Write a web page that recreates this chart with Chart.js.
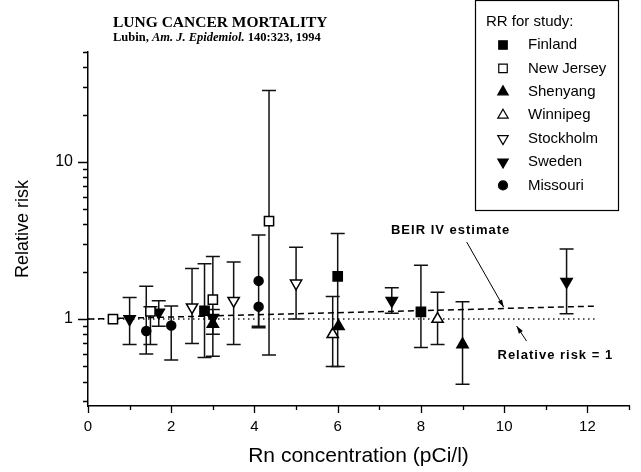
<!DOCTYPE html>
<html>
<head>
<meta charset="utf-8">
<script src="https://cdn.jsdelivr.net/npm/chart.js@4.4.0/dist/chart.umd.min.js"></script>
<style>
  body { margin: 0; background: #fff; }
  #wrap { width: 641px; height: 472px; }
</style>
</head>
<body>
<div id="wrap"><canvas id="rrChart" width="641" height="472"></canvas></div>
<script>
// relative risk per study: x = Rn concentration (pCi/l), rr = RR, lo/hi = CI (null = no bar)
const finlandX = [2.8, 6.0, 8.0];
const finlandRR = [1.13, 1.87, 1.11];
const finlandLo = [0.57, 0.5, 0.66];
const finlandHi = [2.25, 3.5, 2.2];

const newJerseyX = [0.6, 1.5, 3.0, 4.35];
const newJerseyRR = [1.0, 1.12, 1.33, 4.2];
const newJerseyLo = [null, 0.69, 0.58, 0.59];
const newJerseyHi = [null, 1.2, 2.5, 28.5];

const shenyangX = [3.0, 6.02, 9.0];
const shenyangRR = [0.93, 0.9, 0.69];
const shenyangLo = [0.8, null, 0.385];
const shenyangHi = [1.15, null, 1.29];

const winnipegX = [5.88, 8.4];
const winnipegRR = [0.8, 1.0];
const winnipegLo = [0.5, 0.69];
const winnipegHi = [1.39, 1.48];

const stockholmX = [2.5, 3.5, 5.0];
const stockholmRR = [1.19, 1.31, 1.69];
const stockholmLo = [0.7, 0.69, 1.0];
const stockholmHi = [2.1, 2.31, 2.86];

const swedenX = [1.0, 1.7, 3.0, 7.3, 11.5];
const swedenRR = [1.0, 1.1, 1.02, 1.31, 1.73];
const swedenLo = [0.69, 0.9, null, 1.09, 1.08];
const swedenHi = [1.37, 1.31, null, 1.58, 2.79];

const missouriX = [1.4, 2.0, 4.1, 4.1];
const missouriRR = [0.84, 0.91, 1.75, 1.2];
const missouriLo = [0.6, 0.55, 0.9, 0.88];
const missouriHi = [1.62, 1.21, 3.43, null];

// reference lines
const beirX = [0, 12.25];
const beirRR = [1.0, 1.21];
const unityX = [0, 12.25];
const unityRR = [1, 1];

// axes
const xTickValues = [0, 1, 2, 3, 4, 5, 6, 7, 8, 9, 10, 11, 12, 13];
const yTickValues = [0.3, 0.4, 0.5, 0.6, 0.7, 0.8, 0.9, 1, 2, 3, 4, 5, 6, 7, 8, 9, 10, 20, 30, 40, 50];
const yLabelled = [1, 10];

function pts(xs, ys) {
    return xs.map((x, i) => ({ x: x, y: ys[i] }));
}

function study(label, xs, rr, lo, hi, style, filled, rotation) {
    return {
        label: label,
        data: pts(xs, rr),
        errLo: lo,
        errHi: hi,
        pointStyle: style,
        pointRotation: rotation || 0,
        pointRadius: style === 'circle' ? 4.5 : 6.5,
        pointBackgroundColor: filled ? '#000' : '#fff',
        pointBorderColor: '#000',
        pointBorderWidth: 1.5,
        showLine: false
    };
}

const errorBars = {
    id: 'errorBars',
    beforeDatasetsDraw(chart) {
        const ctx = chart.ctx;
        const xs = chart.scales.x, ys = chart.scales.y;
        ctx.save();
        ctx.strokeStyle = '#111';
        ctx.lineWidth = 1.5;
        chart.data.datasets.forEach(ds => {
            if (!ds.errLo) return;
            ds.data.forEach((p, i) => {
                const lo = ds.errLo[i], hi = ds.errHi[i];
                if (lo == null && hi == null) return;
                const px = xs.getPixelForValue(p.x);
                const pLo = ys.getPixelForValue(lo != null ? lo : p.y);
                const pHi = ys.getPixelForValue(hi != null ? hi : p.y);
                ctx.beginPath();
                ctx.moveTo(px, pLo);
                ctx.lineTo(px, pHi);
                if (lo != null) { ctx.moveTo(px - 7, pLo); ctx.lineTo(px + 7, pLo); }
                if (hi != null) { ctx.moveTo(px - 7, pHi); ctx.lineTo(px + 7, pHi); }
                ctx.stroke();
            });
        });
        ctx.restore();
    }
};

const tickMarks = {
    id: 'tickMarks',
    afterDraw(chart) {
        const ctx = chart.ctx;
        const xs = chart.scales.x, ys = chart.scales.y;
        ctx.save();
        ctx.strokeStyle = '#000';
        ctx.lineWidth = 1.3;
        ctx.beginPath();
        yTickValues.forEach(v => {
            const py = Math.round(ys.getPixelForValue(v)) + 0.5;
            const len = yLabelled.includes(v) ? 10 : 5;
            ctx.moveTo(xs.left - len, py);
            ctx.lineTo(xs.left, py);
        });
        xTickValues.forEach(v => {
            const px = Math.round(xs.getPixelForValue(v)) + 0.5;
            const len = v % 2 === 0 ? 7 : 4;
            ctx.moveTo(px, ys.bottom);
            ctx.lineTo(px, ys.bottom + len);
        });
        ctx.stroke();
        ctx.restore();
    }
};

const notes = {
    id: 'notes',
    afterDatasetsDraw(chart) {
        const ctx = chart.ctx;
        const xs = chart.scales.x, ys = chart.scales.y;
        const P = (x, y) => [xs.getPixelForValue(x), ys.getPixelForValue(y)];
        ctx.save();
        ctx.fillStyle = '#000';
        ctx.strokeStyle = '#000';
        ctx.font = 'bold 13px "Liberation Sans", Arial, sans-serif';
        ctx.letterSpacing = '1px';
        ctx.textBaseline = 'middle';
        let t = P(7.28, 3.64);
        ctx.fillText('BEIR IV estimate', t[0], t[1]);
        t = P(9.84, 0.59);
        ctx.fillText('Relative risk = 1', t[0], t[1]);

        function arrow(a, b) {
            ctx.lineWidth = 1;
            ctx.beginPath();
            ctx.moveTo(a[0], a[1]);
            ctx.lineTo(b[0], b[1]);
            ctx.stroke();
            const ang = Math.atan2(b[1] - a[1], b[0] - a[0]);
            ctx.beginPath();
            ctx.moveTo(b[0], b[1]);
            ctx.lineTo(b[0] - 8 * Math.cos(ang - 0.3), b[1] - 8 * Math.sin(ang - 0.3));
            ctx.lineTo(b[0] - 8 * Math.cos(ang + 0.3), b[1] - 8 * Math.sin(ang + 0.3));
            ctx.closePath();
            ctx.fill();
        }
        arrow(P(9.1, 3.09), P(9.99, 1.19));
        arrow(P(10.54, 0.724), P(10.3, 0.903));
        ctx.restore();
    }
};

const header = {
    id: 'header',
    afterDraw(chart) {
        const ctx = chart.ctx;
        ctx.save();
        ctx.fillStyle = '#000';
        ctx.textBaseline = 'alphabetic';
        ctx.font = 'bold 15.5px "Liberation Serif", "Times New Roman", serif';
        ctx.fillText('LUNG CANCER MORTALITY', 113, 27);

        const parts = [
            ['Lubin, ', 'bold'],
            ['Am. J. Epidemiol.', 'italic bold'],
            [' 140:323, 1994', 'bold']
        ];
        let x = 113;
        parts.forEach(p => {
            ctx.font = p[1] + ' 12.5px "Liberation Serif", "Times New Roman", serif';
            ctx.fillText(p[0], x, 41);
            x += ctx.measureText(p[0]).width;
        });

        // legend box
        ctx.strokeStyle = '#000';
        ctx.lineWidth = 1.2;
        ctx.fillStyle = '#fff';
        ctx.fillRect(475.5, 0.5, 143, 210);
        ctx.strokeRect(475.5, 0.5, 143, 210);
        ctx.fillStyle = '#000';
        ctx.font = '15px "Liberation Sans", Arial, sans-serif';
        ctx.textBaseline = 'middle';
        ctx.fillText('RR for study:', 486, 22);
        const studies = chart.data.datasets.filter(d => d.errLo);
        studies.forEach((ds, i) => {
            const y = 45 + i * 23.4;
            ctx.fillStyle = ds.pointBackgroundColor;
            ctx.strokeStyle = '#000';
            Chart.helpers.drawPoint(ctx, {
                pointStyle: ds.pointStyle,
                radius: ds.pointStyle === 'circle' ? 4.5 : 6,
                rotation: ds.pointRotation,
                borderWidth: 1.5
            }, 503, y);
            ctx.fillStyle = '#000';
            ctx.fillText(ds.label, 528, y);
        });
        ctx.restore();
    }
};

Chart.defaults.font.family = '"Liberation Sans", Arial, sans-serif';
Chart.defaults.color = '#000';

new Chart(document.getElementById('rrChart'), {
    type: 'scatter',
    data: {
        datasets: [
            study('Finland', finlandX, finlandRR, finlandLo, finlandHi, 'rect', true),
            study('New Jersey', newJerseyX, newJerseyRR, newJerseyLo, newJerseyHi, 'rect', false),
            study('Shenyang', shenyangX, shenyangRR, shenyangLo, shenyangHi, 'triangle', true),
            study('Winnipeg', winnipegX, winnipegRR, winnipegLo, winnipegHi, 'triangle', false),
            study('Stockholm', stockholmX, stockholmRR, stockholmLo, stockholmHi, 'triangle', false, 180),
            study('Sweden', swedenX, swedenRR, swedenLo, swedenHi, 'triangle', true, 180),
            study('Missouri', missouriX, missouriRR, missouriLo, missouriHi, 'circle', true),
            {
                label: 'BEIR IV estimate',
                data: pts(beirX, beirRR),
                showLine: true,
                pointRadius: 0,
                borderColor: '#000',
                borderWidth: 1.5,
                borderDash: [6, 4]
            },
            {
                label: 'Relative risk = 1',
                data: pts(unityX, unityRR),
                showLine: true,
                pointRadius: 0,
                borderColor: '#222',
                borderWidth: 1.5,
                borderDash: [1.5, 3.5]
            }
        ]
    },
    options: {
        responsive: false,
        animation: false,
        layout: { padding: { top: 52, right: 9, left: 0, bottom: 0 } },
        plugins: {
            legend: { display: false },
            tooltip: { enabled: false }
        },
        scales: {
            x: {
                type: 'linear',
                min: 0,
                max: 13,
                afterFit: s => { s.height = 66; },
                grid: { display: false, drawTicks: false },
                border: { display: true, color: '#000', width: 1.5 },
                ticks: {
                    stepSize: 1,
                    autoSkip: false,
                    maxRotation: 0,
                    padding: 12,
                    font: { size: 15 },
                    callback: v => (v % 2 === 0 ? String(v) : '')
                },
                title: {
                    display: true,
                    text: 'Rn concentration (pCi/l)',
                    font: { size: 21 },
                    padding: { top: 0, bottom: 3 }
                }
            },
            y: {
                type: 'logarithmic',
                min: 0.28,
                max: 50,
                afterFit: s => { s.width = 88; },
                afterBuildTicks: s => { s.ticks = yTickValues.map(v => ({ value: v })); },
                grid: { display: false, drawTicks: false },
                border: { display: true, color: '#000', width: 1.5 },
                ticks: {
                    autoSkip: false,
                    padding: 15,
                    font: { size: 16 },
                    callback: v => (yLabelled.includes(v) ? String(v) : '')
                },
                title: {
                    display: true,
                    text: 'Relative risk',
                    font: { size: 18 },
                    padding: { top: 12, bottom: 0 }
                }
            }
        }
    },
    plugins: [errorBars, tickMarks, notes, header]
});
</script>
</body>
</html>
